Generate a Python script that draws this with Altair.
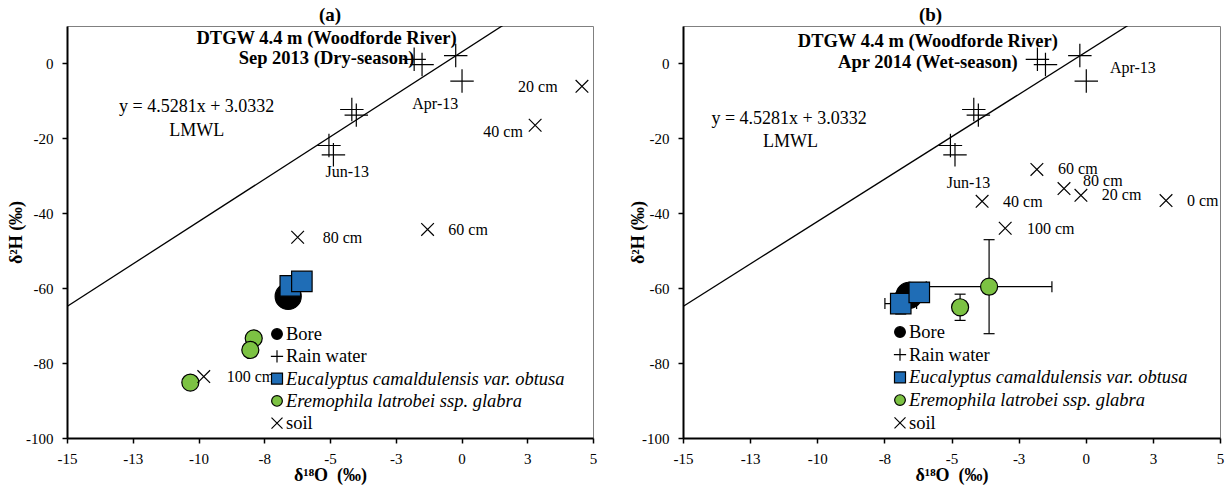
import altair as alt
import pandas as pd

FONT = "Liberation Serif"

# ---- series styling (legend order) ----
SERIES = ["Bore", "Rain water", "Eucalyptus camaldulensis var. obtusa",
          "Eremophila latrobei ssp. glabra", "soil"]
ITALIC = [False, False, True, True, False]
SHAPES = ["circle", "M-1,0H1M0,-1V1", "square", "circle", "M-1,-1L1,1M-1,1L1,-1"]
FILLS = ["#000000", "#000000", "#1f6db6", "#7cc243", "#000000"]
SIZES = [680, 160, 330, 300, 120]
LEGEND_SIZES = [115, 150, 121, 115, 121]

# ---- local meteoric water line: y = 4.5281x + 3.0332 ----
LMWL_SLOPE = 4.5281
LMWL_INTERCEPT = 3.0332
LMWL_X = [-15, 5]

X_TICKS = [-15, -12.5, -10, -7.5, -5, -2.5, 0, 2.5, 5]
Y_TICKS = [-100, -80, -60, -40, -20, 0]

# ---- rain water samples (shown in both panels) ----
rain_o = [-1.8, -1.5, -0.22, 0.02, -4.17, -4.0, -5.04, -4.87]
rain_h = [1.1, -0.3, 2.1, -4.7, -12.3, -13.8, -21.9, -24.4]

# ---- (a) Sep 2013, dry season ----
a_bore_o = [-6.59]
a_bore_h = [-62.2]
a_euc_o = [-6.51, -6.07]
a_euc_h = [-59.4, -58.2]
a_ere_o = [-7.9, -8.03, -10.31]
a_ere_h = [-73.4, -76.5, -85.2]
a_soil_o = [4.58, 2.8, -1.29, -6.23, -9.8]
a_soil_h = [-6.1, -16.5, -44.3, -46.4, -83.6]
a_label_text = ["20 cm", "40 cm", "60 cm", "80 cm", "100 cm", "Apr-13", "Jun-13"]
a_label_o = [2.15, 0.83, -0.5, -5.28, -8.93, -1.87, -5.17]
a_label_h = [-6.4, -18.4, -44.5, -46.7, -83.7, -10.7, -29.0]
a_head = ["DTGW 4.4 m (Woodforde River)", "Sep 2013 (Dry-season)"]
a_head_o = [-5.13, -5.13]
a_head_h = [6.8, 1.4]
a_eq_o = [-10.07, -10.07]
a_eq_h = [-11.5, -18.05]

# ---- (b) Apr 2014, wet season ----
b_bore_o = [-6.58]
b_bore_h = [-61.9]
b_euc_o = [-6.89, -6.2]
b_euc_h = [-64.1, -61.1]
b_euc_oerr = [0.59, 0.0]
b_euc_herr = [2.8, 0.0]
b_ere_o = [-3.6, -4.68]
b_ere_h = [-59.6, -65.1]
b_ere_oerr = [2.34, 0.0]
b_ere_herr = [12.55, 3.5]
b_soil_o = [-1.82, -0.81, -0.18, 2.99, -3.86, -3.0]
b_soil_h = [-28.3, -33.4, -35.2, -36.6, -36.8, -44.0]
b_label_text = ["60 cm", "80 cm", "20 cm", "0 cm", "40 cm", "100 cm", "Apr-13", "Jun-13"]
b_label_o = [-1.03, -0.1, 0.6, 3.77, -3.08, -2.19, 0.9, -5.18]
b_label_h = [-28.3, -31.5, -35.2, -36.6, -37.0, -44.2, -1.3, -31.9]
b_head = ["DTGW 4.4 m (Woodforde River)", "Apr 2014 (Wet-season)"]
b_head_o = [-5.88, -5.88]
b_head_h = [6.1, 0.4]
b_eq_o = [-11.05, -11.0]
b_eq_h = [-14.7, -20.9]

EQ_TEXT = ["y = 4.5281x + 3.0332", "LMWL"]
X_TITLE = "δ¹⁸O\u00a0\u00a0(‰)"
Y_TITLE = "δ²H\u00a0(‰)"


def points_frame(groups):
    rows = []
    for name, xs, ys in groups:
        for xv, yv in zip(xs, ys):
            rows.append({"series": name, "o": xv, "h": yv})
    return pd.DataFrame(rows)


def error_frames(xs, ys, xerr, yerr):
    hbar = pd.DataFrame([{"h": y, "lo": x - e, "hi": x + e}
                         for x, y, e in zip(xs, ys, xerr) if e > 0])
    vbar = pd.DataFrame([{"o": x, "lo": y - e, "hi": y + e}
                         for x, y, e in zip(xs, ys, yerr) if e > 0])
    hcap = pd.DataFrame([{"o": x + s * e, "h": y}
                         for x, y, e in zip(xs, ys, xerr) if e > 0 for s in (-1, 1)])
    vcap = pd.DataFrame([{"o": x, "h": y + s * e}
                         for x, y, e in zip(xs, ys, yerr) if e > 0 for s in (-1, 1)])
    return hbar, vbar, hcap, vcap


def legend_layers(sym_x, text_x, top, step):
    """Key drawn inside the plot area: one symbol and one label per series."""
    out = []
    for i, name in enumerate(SERIES):
        src = pd.DataFrame({"series": [name]})
        yy = top + i * step
        out.append(
            alt.Chart(src)
            .mark_point(shape=SHAPES[i], filled=True, fill=FILLS[i], stroke="black",
                        strokeWidth=1.2, size=LEGEND_SIZES[i], opacity=1)
            .encode(x=alt.value(sym_x), y=alt.value(yy))
        )
        out.append(
            alt.Chart(src)
            .mark_text(align="left", baseline="middle", font=FONT, fontSize=18.5,
                       fontStyle="italic" if ITALIC[i] else "normal", color="black")
            .encode(x=alt.value(text_x), y=alt.value(yy), text="series:N")
        )
    return out


def make_panel(tag, tag_dx, width, pts, labels, head, eq, legend_pos,
               y_extent, errors=None):
    x_axis = alt.Axis(
        values=X_TICKS,
        labelExpr="(datum.value < 0 ? '-' : '') + round(abs(datum.value))",
        title=X_TITLE, grid=False,
        domainColor="black", domainWidth=2,
        tickColor="black", tickSize=5, tickWidth=1.5,
        labelFont=FONT, labelFontSize=15, labelColor="black", labelPadding=8,
        labelFlush=False, labelOverlap=False,
        titleFont=FONT, titleFontSize=18, titleFontWeight="bold",
        titleColor="black", titlePadding=0,
    )
    y_axis = alt.Axis(
        values=Y_TICKS, labelExpr="'' + datum.value",
        title=Y_TITLE, grid=False,
        domainColor="black", domainWidth=2,
        tickColor="black", tickSize=5, tickWidth=1.5,
        labelFont=FONT, labelFontSize=15, labelColor="black", labelPadding=9,
        labelOverlap=False, minExtent=y_extent, maxExtent=y_extent,
        titleFont=FONT, titleFontSize=18, titleFontWeight="bold",
        titleColor="black", titlePadding=0,
    )
    xs = alt.Scale(domain=[-15, 5], nice=False, zero=False)
    ys = alt.Scale(domain=[-100, 10], nice=False, zero=False)

    def X(f):
        return alt.X(f, type="quantitative", scale=xs, axis=x_axis)

    def Y(f):
        return alt.Y(f, type="quantitative", scale=ys, axis=y_axis)

    lmwl = (
        alt.Chart(pd.DataFrame({"o": LMWL_X}))
        .transform_calculate(h=f"{LMWL_SLOPE} * datum.o + {LMWL_INTERCEPT}")
        .mark_line(color="black", strokeWidth=1.3, clip=True)
        .encode(x=X("o"), y=Y("h"))
    )
    layers = [lmwl]

    if errors is not None:
        hbar, vbar, hcap, vcap = errors
        rule_style = dict(color="black", strokeWidth=1.2)
        layers += [
            alt.Chart(hbar).mark_rule(**rule_style).encode(x=X("lo"), x2="hi", y=Y("h")),
            alt.Chart(vbar).mark_rule(**rule_style).encode(x=X("o"), y=Y("lo"), y2="hi"),
            alt.Chart(hcap).mark_tick(orient="vertical", size=11, thickness=1.2,
                                      color="black", opacity=1)
            .encode(x=X("o"), y=Y("h")),
            alt.Chart(vcap).mark_tick(orient="horizontal", size=11, thickness=1.2,
                                      color="black", opacity=1)
            .encode(x=X("o"), y=Y("h")),
        ]

    points = (
        alt.Chart(pts)
        .mark_point(opacity=1, strokeWidth=1.2)
        .encode(
            x=X("o"), y=Y("h"),
            shape=alt.Shape("series:N", scale=alt.Scale(domain=SERIES, range=SHAPES),
                            legend=None),
            fill=alt.Fill("series:N", scale=alt.Scale(domain=SERIES, range=FILLS),
                          legend=None),
            size=alt.Size("series:N", scale=alt.Scale(domain=SERIES, range=SIZES),
                          legend=None),
            stroke=alt.value("black"),
        )
    )
    layers.append(points)

    layers.append(
        alt.Chart(labels).mark_text(align="left", baseline="middle", font=FONT,
                                    fontSize=16, color="black")
        .encode(x=X("o"), y=Y("h"), text="text:N")
    )
    layers.append(
        alt.Chart(head).mark_text(align="center", baseline="middle", font=FONT,
                                  fontSize=18.5, fontWeight="bold", color="black")
        .encode(x=X("o"), y=Y("h"), text="text:N")
    )
    layers.append(
        alt.Chart(eq).mark_text(align="center", baseline="middle", font=FONT,
                                fontSize=18, color="black")
        .encode(x=X("o"), y=Y("h"), text="text:N")
    )
    layers += legend_layers(*legend_pos)

    return alt.layer(*layers).properties(
        width=width, height=412,
        title=alt.TitleParams(tag, font=FONT, fontSize=19, fontWeight="bold",
                              color="black", anchor="middle", offset=1, dx=tag_dx),
    )


a_pts = points_frame([
    ("Bore", a_bore_o, a_bore_h),
    ("Rain water", rain_o, rain_h),
    ("Eucalyptus camaldulensis var. obtusa", a_euc_o, a_euc_h),
    ("Eremophila latrobei ssp. glabra", a_ere_o, a_ere_h),
    ("soil", a_soil_o, a_soil_h),
])
b_pts = points_frame([
    ("Bore", b_bore_o, b_bore_h),
    ("Rain water", rain_o, rain_h),
    ("Eucalyptus camaldulensis var. obtusa", b_euc_o, b_euc_h),
    ("Eremophila latrobei ssp. glabra", b_ere_o, b_ere_h),
    ("soil", b_soil_o, b_soil_h),
])

b_err_parts = [
    error_frames(b_euc_o, b_euc_h, b_euc_oerr, b_euc_herr),
    error_frames(b_ere_o, b_ere_h, b_ere_oerr, b_ere_herr),
]
b_errors = tuple(pd.concat([p[i] for p in b_err_parts], ignore_index=True) for i in range(4))

panel_a = make_panel(
    "(a)", 0, 526,
    a_pts,
    pd.DataFrame({"text": a_label_text, "o": a_label_o, "h": a_label_h}),
    pd.DataFrame({"text": a_head, "o": a_head_o, "h": a_head_h}),
    pd.DataFrame({"text": EQ_TEXT, "o": a_eq_o, "h": a_eq_h}),
    (210, 219, 308, 22.3), 42,
)
panel_b = make_panel(
    "(b)", -21, 537,
    b_pts,
    pd.DataFrame({"text": b_label_text, "o": b_label_o, "h": b_label_h}),
    pd.DataFrame({"text": b_head, "o": b_head_o, "h": b_head_h}),
    pd.DataFrame({"text": EQ_TEXT, "o": b_eq_o, "h": b_eq_h}),
    (217, 226, 306, 22.7), 36,
    errors=b_errors,
)

chart = (
    alt.hconcat(panel_a, panel_b, spacing=30)
    .resolve_scale(x="independent", y="independent", shape="independent",
                   fill="independent", size="independent")
    .properties(padding={"left": 6, "top": 5, "right": 5, "bottom": 0},
                background="white")
    .configure_view(stroke="#808080", strokeWidth=1)
)

chart.save("out.html", embed_options={"renderer": "svg", "actions": False})
